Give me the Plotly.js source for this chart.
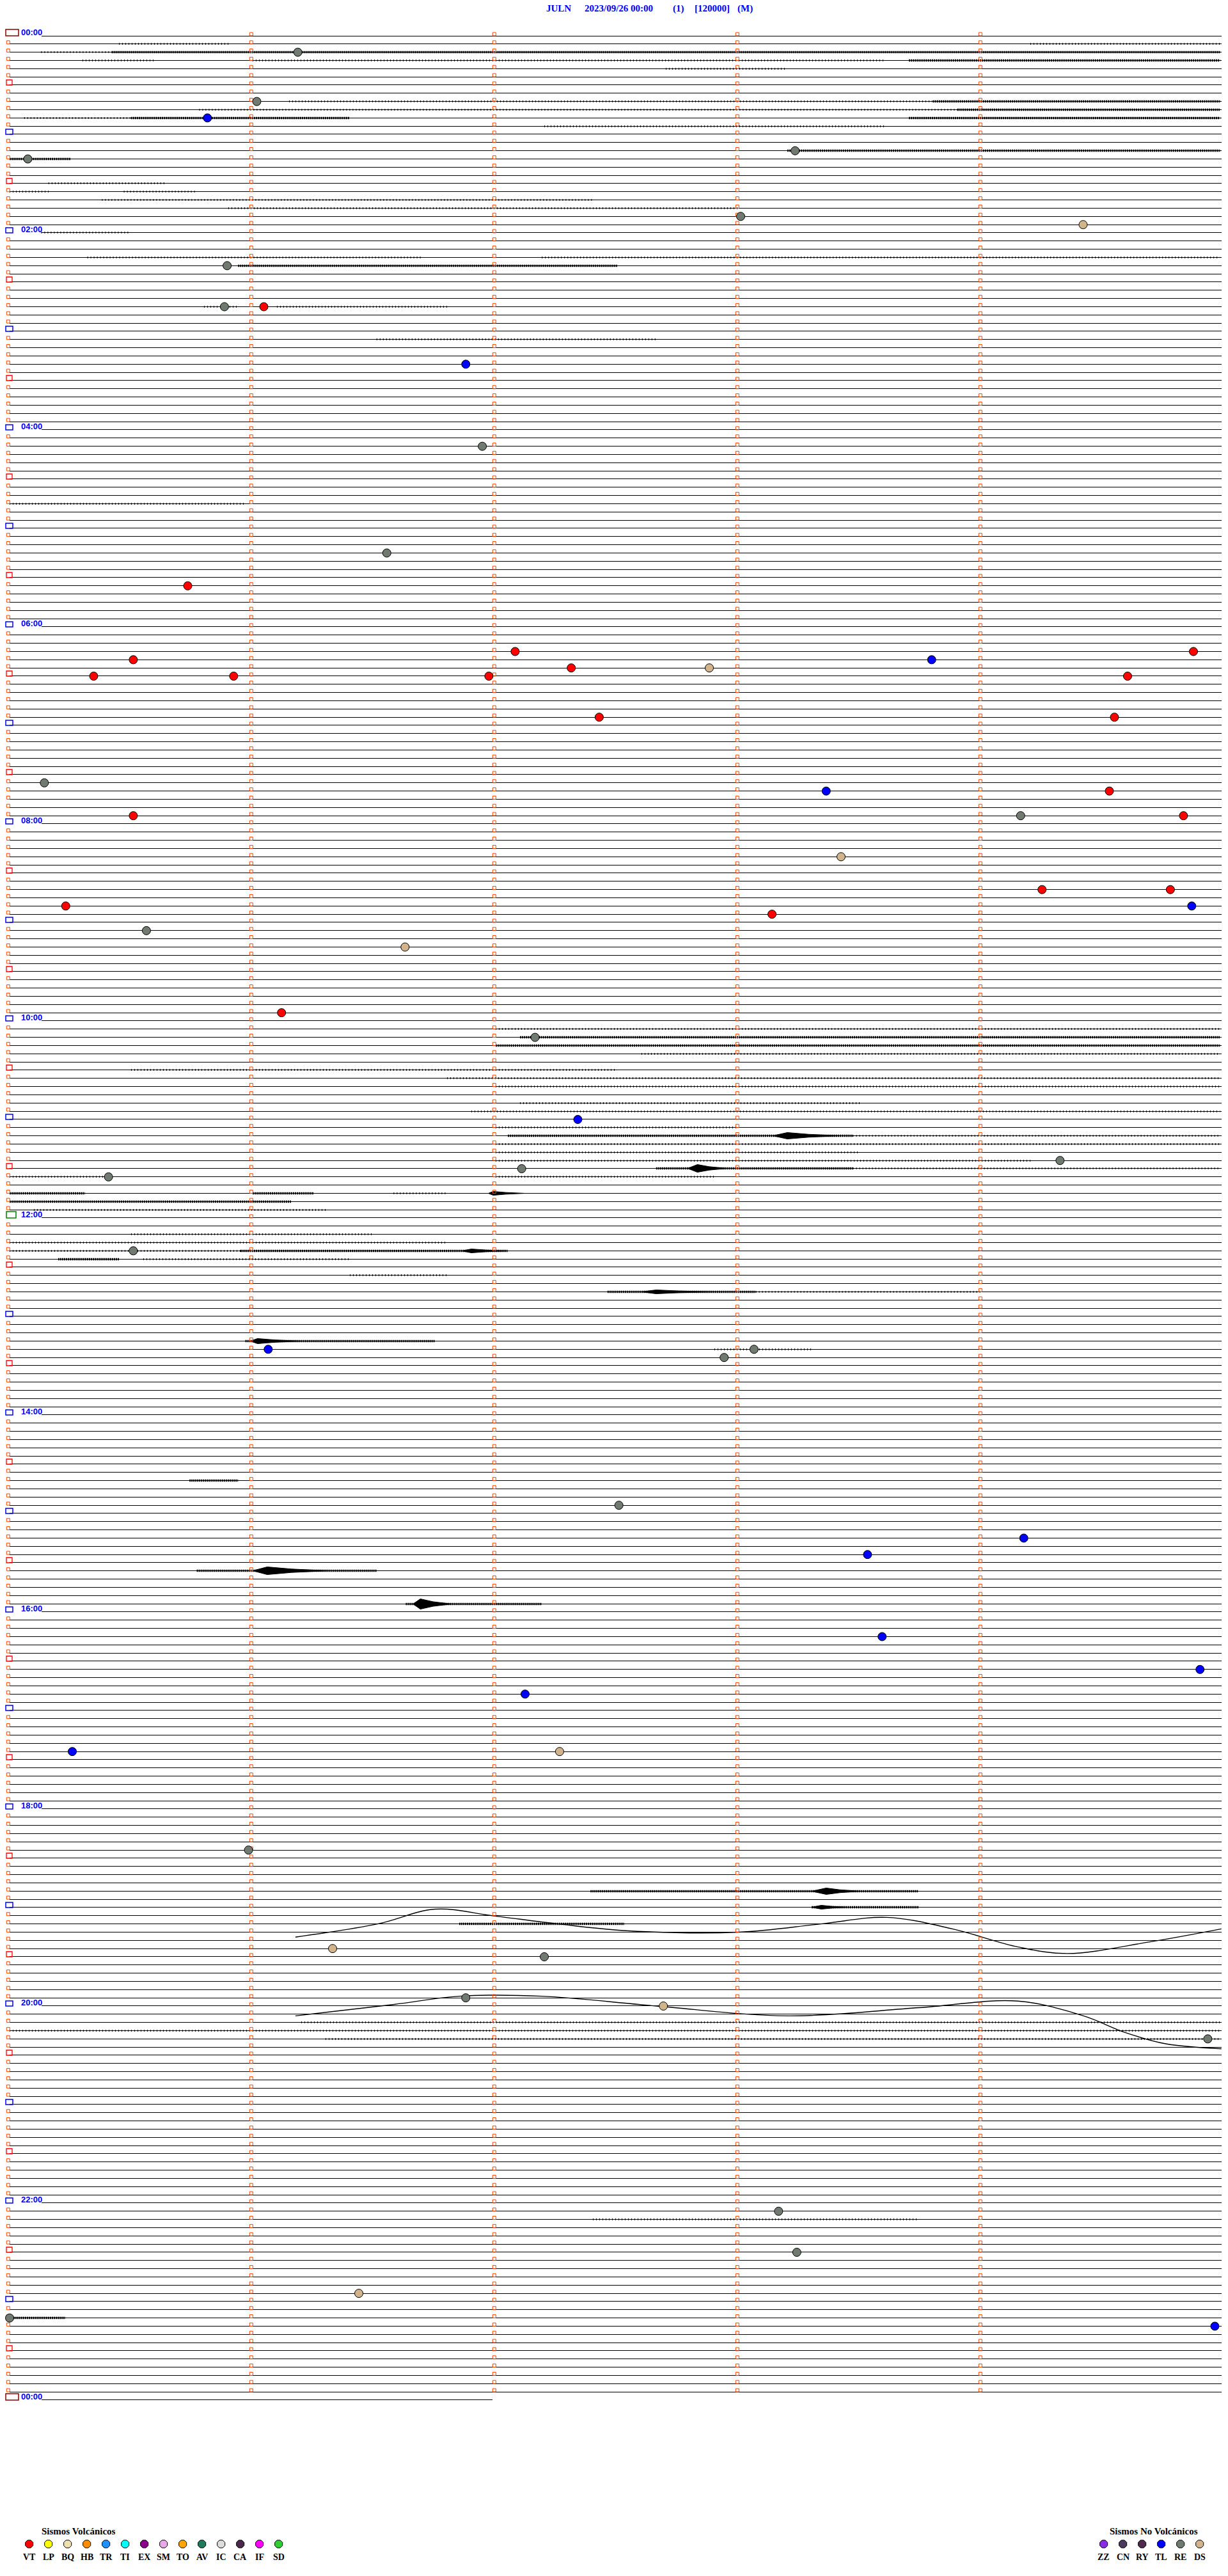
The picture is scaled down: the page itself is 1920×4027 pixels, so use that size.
<!DOCTYPE html>
<html><head><meta charset="utf-8">
<script src="https://cdn.plot.ly/plotly-3.0.1.min.js"></script>
<style>html,body{margin:0;padding:0;background:#fff}</style>
</head><body>
<div id="chart" style="width:1920px;height:4027px"></div>
<script>
// ---------------- DATA ----------------
const titleParts = ["JULN", "2023/09/26 00:00", "(1)", "[120000]", "(M)"];
const rowCount = 288;           // 5-minute traces over 24 h
const minuteMarks = [0, 1, 2, 3, 4];
const traceEnd = 4.987;         // minutes drawn per row
const lastRowEnd = 1.987;       // final 00:00 row
const hourLabels = ["00:00","02:00","04:00","06:00","08:00","10:00","12:00","14:00","16:00","18:00","20:00","22:00","00:00"];
const hourLabelRows = [0,24,48,72,96,120,144,168,192,216,240,264,288];

// events: row index (5-min row), minute within row, type
const eventRow = [2,8,10,15,14,22,23,28,33,33,40,50,63,67,75,75,76,77,76,77,78,78,78,78,83,83,91,92,92,95,95,95,100,104,104,106,106,107,109,111,119,122,132,139,138,137,148,160,161,160,179,183,185,195,199,202,209,209,221,233,234,239,240,244,265,270,275,278,279];
const eventMin = [1.186,1.017,0.814,0.075,3.232,3.008,4.417,0.895,0.884,1.046,1.877,1.945,1.552,0.733,4.871,2.08,0.509,2.879,3.794,2.311,0.346,0.922,1.972,4.6,2.426,4.546,0.143,3.36,4.525,0.509,4.16,4.83,3.421,4.248,4.776,0.231,4.864,3.137,0.563,1.627,1.119,2.162,2.338,0.407,2.107,4.322,0.509,3.063,2.94,1.064,2.507,4.173,3.53,3.59,4.898,2.121,0.258,2.263,0.983,1.329,2.2,1.877,2.69,4.93,3.164,3.239,1.437,0.0,4.959];
const eventType = ["RE","RE","TL","RE","RE","RE","DS","RE","RE","VT","TL","RE","RE","VT","VT","VT","VT","DS","TL","VT","VT","VT","VT","VT","VT","VT","RE","TL","VT","VT","RE","VT","DS","VT","VT","VT","TL","VT","RE","DS","VT","RE","TL","RE","RE","RE","RE","RE","RE","TL","RE","TL","TL","TL","TL","TL","TL","DS","RE","DS","RE","RE","DS","RE","RE","RE","DS","RE","TL"];

// background noise segments: row, from minute, to minute, level (1 sparse, 2 dense)
const noiseRow   = [1,1,2,2,3,3,3,4,8,8,9,9,10,10,10,11,14,15,18,19,19,20,21,24,27,27,28,33,33,37,57,121,122,123,124,126,127,128,130,131,133,134,134,135,136,137,138,138,139,139,141,141,141,142,143,146,147,148,148,149,149,151,153,153,159,160,176,187,191,226,228,230,242,243,244,266,278];
const noiseFrom  = [0.45,4.2,0.13,0.42,0.3,1.0,3.7,2.7,1.15,3.8,0.78,3.9,0.06,0.5,3.7,2.2,3.2,0,0.16,0,0.47,0.38,0.9,0.13,0.32,2.19,0.94,0.8,1.1,1.51,0,2.0,2.1,2.0,2.6,0.5,1.8,2.0,2.1,1.9,2.0,2.05,3.47,2.0,2.0,2.0,2.66,3.47,0,2.0,0,1.0,1.58,0,0.1,0.5,0,0,0.95,0.2,0.55,1.4,2.46,3.07,0.97,2.9,0.74,0.77,1.63,2.39,3.3,1.85,1.2,0,1.3,2.4,0];
const noiseTo    = [0.91,4.98,0.42,4.98,0.6,3.6,4.98,3.2,3.8,4.98,3.9,4.98,0.5,1.4,4.98,3.6,4.98,0.25,0.64,0.16,0.77,2.4,3.0,0.49,1.7,4.98,2.5,0.94,1.8,2.66,0.97,4.98,4.98,4.98,4.98,2.5,4.98,4.98,3.5,4.98,3.0,3.47,4.98,4.98,3.5,4.2,3.47,4.98,0.4,2.9,0.31,1.25,1.8,1.16,1.3,1.5,1.8,0.95,2.05,0.45,1.4,1.8,3.07,4.0,1.75,3.3,0.94,1.51,2.19,3.74,3.74,2.53,4.98,4.98,4.98,3.74,0.23];
const noiseLevel = [1,1,1,2,1,1,2,1,1,2,1,2,1,2,2,1,2,2,1,1,1,1,1,1,1,1,2,1,1,1,1,1,2,2,1,1,1,1,1,1,1,2,1,1,1,1,2,1,1,1,2,2,1,2,1,1,1,1,2,2,1,1,2,1,2,1,2,2,2,2,2,2,1,1,1,1,2];

// seismic bursts: row, start, peak, end (minutes), half amplitude (px)
const burstRow   = [134,138,141,148,153,159,187,191,226,228];
const burstStart = [3.14,2.79,1.97,1.86,2.6,0.99,1.0,1.66,3.3,3.3];
const burstPeak  = [3.2,2.83,1.99,1.9,2.66,1.02,1.06,1.69,3.36,3.34];
const burstEnd   = [3.42,2.95,2.12,2.05,2.9,1.2,1.31,1.82,3.5,3.45];
const burstAmp   = [5,6,3,3,3,4,6,8,5,3];

// long-period drift waves (minute, row position)
const waveAx = [1.176,1.514,1.751,1.987,2.257,2.527,3.0,3.338,3.608,3.879,4.149,4.352,4.689,4.986];
const waveAy = [231.6,230.0,228.2,229.0,230.0,230.8,231.0,230.0,229.2,230.6,232.8,233.6,232.2,230.6];
const waveBx = [1.176,1.582,1.852,2.19,2.662,3.203,3.743,4.149,4.419,4.588,4.757,4.986];
const waveBy = [241.2,239.8,238.8,238.8,240.0,241.2,240.2,239.4,241.2,243.2,244.6,245.2];

const volcTypes  = ["VT","LP","BQ","HB","TR","TI","EX","SM","TO","AV","IC","CA","IF","SD"];
const volcColors = ["#FF0000","#FFFF00","#EEE0B0","#FF8C00","#1E90FF","#00FFFF","#8B008B","#E6A8E6","#FFA500","#1F7A5C","#DCDCDC","#4A2A4A","#FF00FF","#32CD32"];
const noVolcTypes  = ["ZZ","CN","RY","TL","RE","DS"];
const noVolcColors = ["#8A2BE2","#4A3A5E","#4E2A4E","#0000FF","#707A70","#D2B48C"];

// ---------------- LAYOUT GEOMETRY ----------------
const W = 1920, H = 4027;
const X0 = 15, PXM = 380;       // pixel of minute 0, pixels per minute
const Y0 = 56, PXL = 12.8333;   // pixel of row 0, pixels per row
const dx = p => p / PXM, dy = p => p / PXL;
const snapRow = r => (Math.floor(Y0 + r * PXL) + 0.5 - Y0) / PXL;   // crisp 1px lines

const colorOf = {};
volcTypes.forEach((t,i)=>colorOf[t]=volcColors[i]);
noVolcTypes.forEach((t,i)=>colorOf[t]=noVolcColors[i]);

const traces = [];

// base trace lines
{
  const x = [], y = [];
  for (let r = 0; r <= rowCount; r++) {
    const start = hourLabelRows.includes(r) ? dx(50) : 0;
    const yy = snapRow(r);
    x.push(start, r === rowCount ? lastRowEnd : traceEnd, null);
    y.push(yy, yy, null);
  }
  traces.push({type:'scatter', mode:'lines', x, y, line:{color:'#000', width:1.2}, hoverinfo:'skip'});
}
// noise segments, drawn as tick texture
const levelStyle = {1:{width:3, dash:'1px,4px'}, 2:{width:3.5, dash:'2px,1px'}};
[1,2].forEach(lv => {
  const x = [], y = [];
  noiseRow.forEach((r,i) => { if (noiseLevel[i] === lv) { x.push(noiseFrom[i], noiseTo[i], null); y.push(snapRow(r), snapRow(r), null); } });
  traces.push({type:'scatter', mode:'lines', x, y, line:{color:'#000', width:levelStyle[lv].width, dash:levelStyle[lv].dash}, hoverinfo:'skip'});
});
// bursts as spindle envelopes
burstRow.forEach((r,i) => {
  const a = dy(burstAmp[i]);
  const s = burstStart[i], p = burstPeak[i], e = burstEnd[i];
  const m = p + (e - p) * 0.4;
  const c = snapRow(r);
  traces.push({type:'scatter', mode:'lines', fill:'toself', fillcolor:'#000',
    x:[s, p, m, e, m, p, s], y:[c, c - a, c - a*0.45, c, c + a*0.45, c + a, c],
    line:{color:'#000', width:1}, hoverinfo:'skip'});
});
// long-period waves
traces.push({type:'scatter', mode:'lines', x:waveAx, y:waveAy, line:{color:'#000', width:1.4, shape:'spline'}, hoverinfo:'skip'});
traces.push({type:'scatter', mode:'lines', x:waveBx, y:waveBy, line:{color:'#000', width:1.4, shape:'spline'}, hoverinfo:'skip'});

// minute marker squares
{
  const x = [], y = [];
  for (let r = 0; r < rowCount; r++) {
    minuteMarks.forEach(m => {
      if (m === 0 && r % 6 === 0) return;
      x.push(m - dx(2.2)); y.push(r - dy(2.6));
    });
  }
  traces.push({type:'scatter', mode:'markers', x, y, hoverinfo:'skip',
    marker:{symbol:'square-open', size:5, color:'#FF4500', line:{width:1, color:'#FF4500'}}});
}
// events
traces.push({type:'scatter', mode:'markers', x:eventMin, y:eventRow, hoverinfo:'skip',
  marker:{symbol:'circle', size:13, color:eventType.map(t=>colorOf[t]), line:{color:'#000', width:1}}});

// legend markers (page pixel axes)
traces.push({type:'scatter', mode:'markers', xaxis:'x2', yaxis:'y2', hoverinfo:'skip',
  x: volcTypes.map((t,i)=>45.7 + 30*i), y: volcTypes.map(()=>3977),
  marker:{symbol:'octagon', size:13, color:volcColors, line:{color:'#000', width:1}}});
traces.push({type:'scatter', mode:'markers', xaxis:'x2', yaxis:'y2', hoverinfo:'skip',
  x: noVolcTypes.map((t,i)=>1725.7 + 30*i), y: noVolcTypes.map(()=>3977),
  marker:{symbol:'octagon', size:13, color:noVolcColors, line:{color:'#000', width:1}}});

// shapes: hour / half-hour boxes
const shapes = [];
for (let r = 0; r <= rowCount; r += 6) {
  let color, x0, x1, h, w = 1;
  if (r % 288 === 0) { color = '#8B0000'; x0 = -6; x1 = 14; h = 10; w = 1.5; }
  else if (r === 144) { color = '#008000'; x0 = -5; x1 = 10; h = 10; w = 1.5; }
  else if (r % 12 === 0) { color = '#0000FF'; x0 = -6; x1 = 5; h = 8; w = 1.5; }
  else { color = '#FF0000'; x0 = -5; x1 = 4; h = 8; w = 1.3; }
  shapes.push({type:'rect', xref:'x', yref:'y', xsizemode:'pixel', ysizemode:'pixel',
    xanchor:0, yanchor:r, x0, x1, y0:0, y1:h, line:{color, width:w}, fillcolor:'rgba(0,0,0,0)'});
}

// annotations
const annotations = [];
hourLabels.forEach((lab,i) => {
  annotations.push({xref:'x', yref:'y', x:dx(17), y:hourLabelRows[i], yshift:5.2, xanchor:'left', yanchor:'middle',
    text:lab, showarrow:false, borderpad:0, font:{family:'Liberation Sans, Arial', size:13, color:'#0000FF', weight:'bold'}});
});
const titleX = [853, 913, 1051, 1085, 1152];
titleParts.forEach((t,i) => annotations.push({xref:'x2', yref:'y2', x:titleX[i], y:13, xanchor:'left', yanchor:'middle',
  text:t, showarrow:false, borderpad:0, font:{family:'Liberation Serif, Times New Roman', size:15, color:'#0000FF', weight:'bold'}}));
volcTypes.forEach((t,i) => annotations.push({xref:'x2', yref:'y2', x:45.7 + 30*i, y:3997, xanchor:'center', yanchor:'middle',
  text:t, showarrow:false, font:{family:'Liberation Serif', size:14, color:'#000', weight:'bold'}}));
noVolcTypes.forEach((t,i) => annotations.push({xref:'x2', yref:'y2', x:1725.7 + 30*i, y:3997, xanchor:'center', yanchor:'middle',
  text:t, showarrow:false, font:{family:'Liberation Serif', size:14, color:'#000', weight:'bold'}}));
annotations.push({xref:'x2', yref:'y2', x:63, y:3957, xanchor:'left', yanchor:'middle', text:'Sismos Volcánicos', showarrow:false,
  font:{family:'Liberation Serif', size:15, color:'#000', weight:'bold'}});
annotations.push({xref:'x2', yref:'y2', x:1733, y:3957, xanchor:'left', yanchor:'middle', text:'Sismos No Volcánicos', showarrow:false,
  font:{family:'Liberation Serif', size:15, color:'#000', weight:'bold'}});

const layout = {
  width: W, height: H, margin:{l:0, r:0, t:0, b:0}, paper_bgcolor:'#fff', plot_bgcolor:'#fff',
  showlegend:false, hovermode:false,
  xaxis:{range:[-X0/PXM, (W - X0)/PXM], visible:false, fixedrange:true},
  yaxis:{range:[(H - Y0)/PXL, -Y0/PXL], visible:false, fixedrange:true},
  xaxis2:{range:[0, W], overlaying:'x', visible:false, fixedrange:true},
  yaxis2:{range:[H, 0], overlaying:'y', visible:false, fixedrange:true},
  shapes, annotations
};
Plotly.newPlot('chart', traces, layout, {staticPlot:true, displayModeBar:false});
</script>
</body></html>
